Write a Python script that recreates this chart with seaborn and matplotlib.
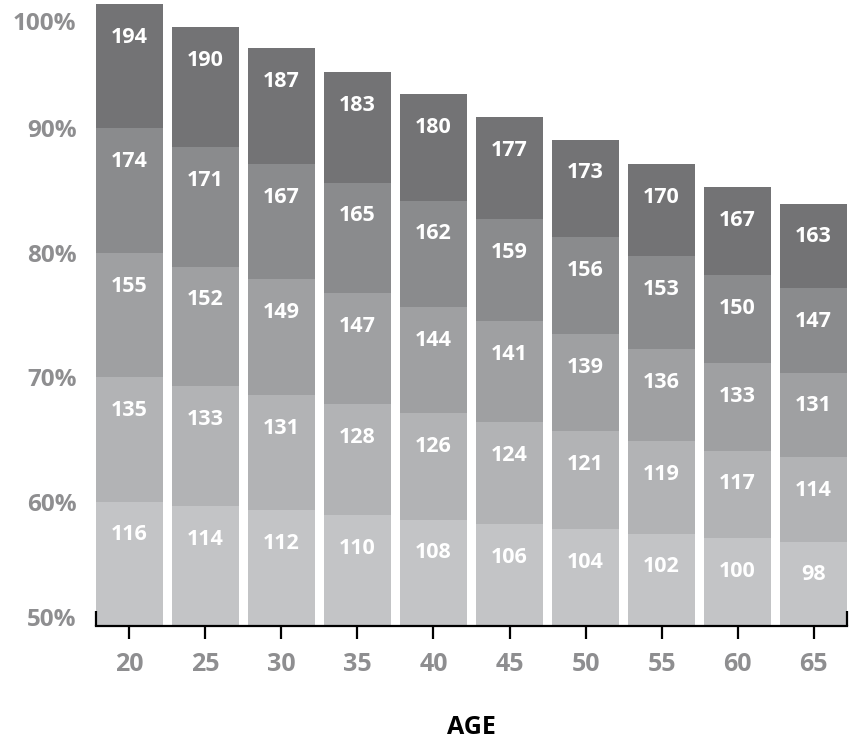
import numpy as np
import pandas as pd
import matplotlib
matplotlib.use("Agg")
import matplotlib.pyplot as plt
import seaborn as sns

ages = [20, 25, 30, 35, 40, 45, 50, 55, 60, 65]
# upper edge of each bar (percent axis, bars start at 50%)
bar_top = [100.0, 98.15, 96.45, 94.55, 92.75, 90.9, 89.1, 87.15, 85.25, 83.95]

z50 = [116, 114, 112, 110, 108, 106, 104, 102, 100, 98]
z60 = [135, 133, 131, 128, 126, 124, 121, 119, 117, 114]
z70 = [155, 152, 149, 147, 144, 141, 139, 136, 133, 131]
z80 = [174, 171, 167, 165, 162, 159, 156, 153, 150, 147]
z90 = [194, 190, 187, 183, 180, 177, 173, 170, 167, 163]

zones = [z50, z60, z70, z80, z90]
colors = ['#c3c4c6', '#b2b3b5', '#9fa0a2', '#8a8b8d', '#737375']
ytick_labels = ['50%', '60%', '70%', '80%', '90%', '100%']

sns.set_style('white')
plt.rcParams['font.family'] = ['Open Sans', 'DejaVu Sans']

fig = plt.figure(figsize=(8.49, 7.44), dpi=100)
ax = fig.add_axes([96 / 849, 1 - 626 / 744, 751 / 849, 622 / 744])

df = pd.DataFrame({'age': [str(a) for a in ages], 'top': bar_top})
df['seg'] = (df['top'] - 50) / 5

for i, (vals, col) in enumerate(zip(zones, colors)):
    bottom = 50 + df['seg'] * i
    sns.barplot(data=df, x='age', y='seg', bottom=bottom, color=col,
                width=0.88, saturation=1, linewidth=0, ax=ax)
    for j, v in enumerate(vals):
        ax.annotate(str(v), (j, bottom[j] + df['seg'][j]), xytext=(0, -24),
                    textcoords='offset points', ha='center', va='center',
                    color='white', fontsize=15.5, fontweight='bold')

ax.set_xlim(-0.44, 9.44)
ax.set_ylim(50, 100)
# the top label sits a little below the 100% line so it stays inside the figure
ax.set_yticks([50, 60, 70, 80, 90, 98.6])
ax.set_yticklabels(ytick_labels)
ax.get_yticklabels()[0].set_va('baseline')
ax.tick_params(axis='y', left=False, length=0, pad=14, labelsize=17.5,
               labelcolor='#8e8e90')
ax.tick_params(axis='x', bottom=True, length=9.5, width=1.6, color='black',
               direction='out', pad=9.5, labelsize=18, labelcolor='#8e8e90')
for t in ax.get_xticklabels() + ax.get_yticklabels():
    t.set_fontweight('bold')
ax.set_xlabel('')
ax.set_ylabel('')
for s in ['left', 'right', 'top']:
    ax.spines[s].set_visible(False)
ax.spines['bottom'].set_linewidth(1.6)
ax.spines['bottom'].set_color('black')
ax.spines['bottom'].set_zorder(5)
# bracket ends of the axis line
ax.plot([0, 0], [0, 15 / 622], transform=ax.transAxes, color='black',
        lw=1.6, clip_on=False, solid_capstyle='butt', zorder=5)
ax.plot([1, 1], [0, 15 / 622], transform=ax.transAxes, color='black',
        lw=1.6, clip_on=False, solid_capstyle='butt', zorder=5)

fig.text(471.5 / 849, 1 - 728 / 744, 'AGE', ha='center', va='center',
         fontsize=18, fontweight='bold', color='black')

fig.savefig('out.png', dpi=100)
